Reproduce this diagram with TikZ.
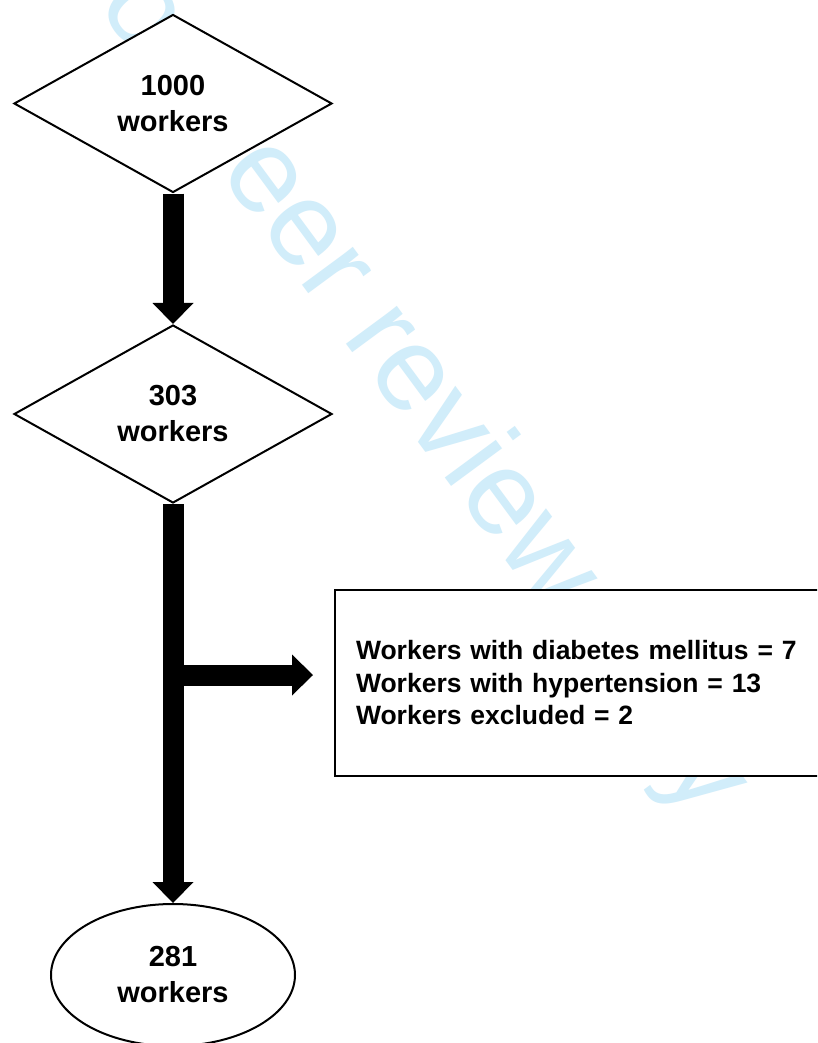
\documentclass[tikz,border=0pt]{standalone}
\usepackage{fontspec}
\setmainfont{Liberation Sans}
\usetikzlibrary{arrows.meta, positioning, shapes.geometric}
\definecolor{wmblue}{RGB}{209,237,250}

\begin{document}
\begin{tikzpicture}[x=1pt, y=-1pt,
    dia/.style={diamond, draw, line width=2pt, fill=white, inner sep=0pt,
                minimum width=318pt, minimum height=178pt, align=center,
                font=\fontsize{29}{36}\selectfont\bfseries},
    ell/.style={ellipse, draw, line width=2pt, fill=white, inner sep=0pt,
                minimum width=244pt, minimum height=142pt, align=center,
                font=\fontsize{29}{36}\selectfont\bfseries},
    box/.style={draw, line width=2pt, fill=white, anchor=west,
                minimum height=186pt, inner xsep=21pt, text width=500pt,
                align=left, font=\fontsize{26.5}{32.5}\selectfont\bfseries},
    fatarr/.style={-{Triangle[length=21pt, width=41pt, line width=0pt]},
                   line width=21pt}
  ]
    \useasboundingbox[fill=white] (0,0) rectangle (817,1043);
    \clip (0,0) rectangle (817,1043);

    % Watermark
    \node[wmblue, rotate=-53.6, font=\fontsize{120}{120}\selectfont]
      (wm) at (400,365) {For peer review only};

    % Flow
    \node[dia] (all) at (173,103.5) {1000\\workers};
    \node[dia] (elig) at (173,414) {303\\workers};
    \node[ell] (final) at (173,975) {281\\workers};
    \node[box] (excl) at (334,683)
      {Workers with diabetes mellitus = 7\\
       Workers with hypertension = 13\\
       Workers excluded = 2};

    \draw[fatarr] (all) -- (elig);
    \draw[fatarr] (elig) -- (final);

    % Exclusions
    \coordinate (split) at ([yshift=8pt]excl.west -| elig.south);
    \draw[fatarr, shorten >=21pt] (split) -- (split -| excl.west);
  \end{tikzpicture}
\end{document}
